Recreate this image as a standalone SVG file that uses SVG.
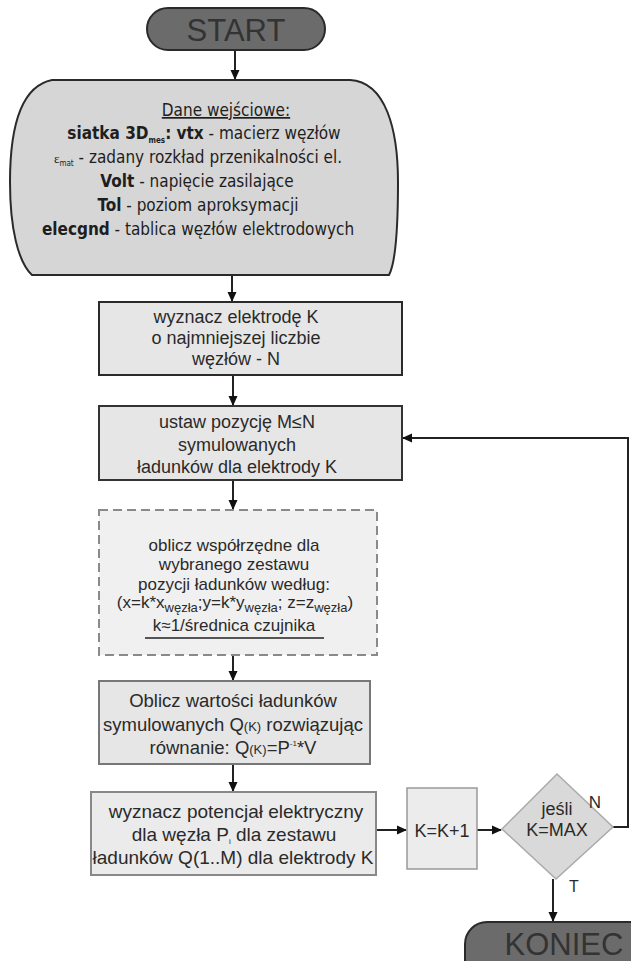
<svg xmlns="http://www.w3.org/2000/svg" width="631" height="961" viewBox="0 0 631 961">
<defs>
<marker id="ah" markerWidth="10" markerHeight="10" refX="9" refY="5" orient="auto" markerUnits="userSpaceOnUse">
<path d="M0,0.5 L10,5 L0,9.5 Z" fill="#111"/>
</marker>
<style>
.conn{stroke:#222;stroke-width:2;fill:none}
.term{fill:#6b6b6b;stroke:#2a2a2a;stroke-width:2}
.termtxt{font-family:"Liberation Sans",Arial,sans-serif;font-size:31px;fill:#333;text-anchor:middle}
.tah{font-family:"DejaVu Sans Condensed","DejaVu Sans",sans-serif;font-size:17px;fill:#1e1e1e;text-anchor:middle}
.ar{font-family:"Liberation Sans",Arial,sans-serif;fill:#2a2a2a;text-anchor:middle}
.b{font-weight:bold}
</style>
</defs>
<rect width="631" height="961" fill="#fff"/>

<g id="connectors">
<line class="conn" x1="235" y1="50" x2="235" y2="79" marker-end="url(#ah)"/>
<line class="conn" x1="232" y1="275" x2="232" y2="301" marker-end="url(#ah)"/>
<line class="conn" x1="233" y1="375" x2="233" y2="405" marker-end="url(#ah)"/>
<line class="conn" x1="233" y1="480" x2="233" y2="509" marker-end="url(#ah)"/>
<line class="conn" x1="233" y1="655" x2="233" y2="680" marker-end="url(#ah)"/>
<line class="conn" x1="233" y1="764" x2="233" y2="791" marker-end="url(#ah)"/>
<line class="conn" x1="377" y1="830" x2="406" y2="830" marker-end="url(#ah)"/>
<line class="conn" x1="477" y1="830" x2="501" y2="830" marker-end="url(#ah)"/>
<polyline class="conn" points="613,827 628,827 628,438 403,438" marker-end="url(#ah)"/>
<line class="conn" x1="553" y1="879" x2="553" y2="921" marker-end="url(#ah)"/>
</g>

<g id="start">
<rect class="term" x="147" y="8" width="178" height="42" rx="21"/>
<text class="termtxt" x="236" y="41">START</text>
</g>

<g id="input">
<path d="M52,80 L350,80 C386,82 398,130 398,182 C398,228 396,262 389,275 L32,275 C18,262 10,228 10,182 C10,125 22,86 52,80 Z" fill="#d6d6d6" stroke="#2a2a2a" stroke-width="2"/>
<text class="tah" x="226" y="116" text-decoration="underline">Dane wejściowe:</text>
<text class="tah" x="204" y="139"><tspan class="b">siatka 3D</tspan><tspan class="b" font-size="8" dy="4">mes</tspan><tspan class="b" dy="-4">: vtx</tspan> - macierz węzłów</text>
<text class="tah" x="198" y="163"><tspan font-family="'Liberation Serif',serif" font-size="13">ε</tspan><tspan font-size="8" dy="3">mat</tspan><tspan dy="-3"> - zadany rozkład przenikalności el.</tspan></text>
<text class="tah" x="197" y="187"><tspan class="b">Volt</tspan> - napięcie zasilające</text>
<text class="tah" x="198" y="211"><tspan class="b">Tol</tspan> - poziom aproksymacji</text>
<text class="tah" x="198" y="235"><tspan class="b">elecgnd</tspan> - tablica węzłów elektrodowych</text>
</g>

<g id="box1">
<rect x="99" y="302" width="303" height="73" fill="#e6e6e6" stroke="#2a2a2a" stroke-width="2"/>
<text class="ar" font-size="18" x="236" y="323">wyznacz elektrodę K</text>
<text class="ar" font-size="18" x="236" y="344">o najmniejszej liczbie</text>
<text class="ar" font-size="18" x="236" y="365">węzłów - N</text>
</g>

<g id="box2">
<rect x="99" y="406" width="303" height="74" fill="#e6e6e6" stroke="#333" stroke-width="2"/>
<text class="ar" font-size="18" x="237" y="428">ustaw pozycję M≤N</text>
<text class="ar" font-size="18" x="237" y="451">symulowanych</text>
<text class="ar" font-size="18" x="237" y="473">ładunków dla elektrody K</text>
</g>

<g id="box3">
<rect x="99" y="510" width="278" height="145" fill="#f0f0f0" stroke="#8a8a8a" stroke-width="2" stroke-dasharray="9,5"/>
<text class="ar" font-size="17" x="234" y="551">oblicz współrzędne dla</text>
<text class="ar" font-size="17" x="234" y="570">wybranego zestawu</text>
<text class="ar" font-size="17" x="234" y="590">pozycji ładunków według:</text>
<text class="ar" font-size="17" x="235" y="608">(x=k*x<tspan font-size="13" dy="4">węzła</tspan><tspan dy="-4">;y=k*y</tspan><tspan font-size="13" dy="4">węzła</tspan><tspan dy="-4">; z=z</tspan><tspan font-size="13" dy="4">węzła</tspan><tspan dy="-4">)</tspan></text>
<text class="ar" font-size="17" x="234" y="631">k≈1/średnica czujnika</text>
<line x1="145" y1="638" x2="324" y2="638" stroke="#222" stroke-width="1.3"/>
</g>

<g id="box4">
<rect x="99" y="681" width="271" height="83" fill="#e6e6e6" stroke="#777" stroke-width="2"/>
<text class="ar" font-size="18.5" x="233" y="707">Oblicz wartości ładunków</text>
<text class="ar" font-size="18.5" x="233" y="731">symulowanych Q<tspan font-size="13">(K)</tspan> rozwiązując</text>
<text class="ar" font-size="18.5" x="233" y="754">równanie: Q<tspan font-size="13">(K)</tspan>=P<tspan font-size="8" dy="-8">-1</tspan><tspan dy="8">*V</tspan></text>
</g>

<g id="box5">
<rect x="91" y="792" width="285" height="83" fill="#ebebeb" stroke="#888" stroke-width="2"/>
<text class="ar" font-size="19" x="236" y="818">wyznacz potencjał elektryczny</text>
<text class="ar" font-size="19" x="234" y="841">dla węzła P<tspan font-size="8" dy="3">i</tspan><tspan dy="-3"> dla zestawu</tspan></text>
<text class="ar" font-size="19" x="233" y="864">ładunków Q(1..M) dla elektrody K</text>
</g>

<g id="box6">
<rect x="407" y="788" width="70" height="81" fill="#ececec" stroke="#999" stroke-width="1.5"/>
<text class="ar" font-size="18" x="442" y="837">K=K+1</text>
</g>

<g id="decision">
<polygon points="557,774 613,827 556,879 502,829" fill="#d9d9d9" stroke="#aaa" stroke-width="1.5"/>
<text class="ar" font-size="18" x="557" y="815">jeśli</text>
<text class="ar" font-size="18" x="557" y="836">K=MAX</text>
<text class="ar" font-size="17" x="595" y="808">N</text>
<text class="ar" font-size="16" x="574" y="892">T</text>
</g>

<g id="koniec">
<rect class="term" x="465" y="922" width="200" height="60" rx="22"/>
<text class="termtxt" x="564" y="955">KONIEC</text>
</g>
</svg>
